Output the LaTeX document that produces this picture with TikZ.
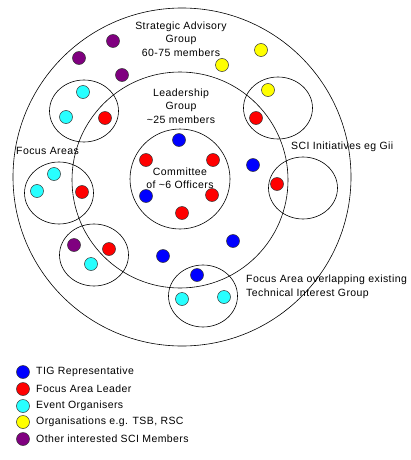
\documentclass[tikz,border=0pt]{standalone}
\usepackage{fontspec}
\setmainfont[LetterSpace=4]{Liberation Sans}
\usetikzlibrary{shapes.geometric}

\definecolor{tigblue}{RGB}{0,0,255}
\definecolor{leadred}{RGB}{255,0,0}
\definecolor{eventcyan}{RGB}{40,255,255}
\definecolor{orgyellow}{RGB}{255,255,0}
\definecolor{sciviolet}{RGB}{128,0,128}

\tikzset{
  dot/.style={circle, draw=black!80, line width=0.5pt, minimum size=13pt, inner sep=0pt},
  tig/.style={dot, fill=tigblue},
  lead/.style={dot, fill=leadred},
  event/.style={dot, fill=eventcyan},
  org/.style={dot, fill=orgyellow},
  member/.style={dot, fill=sciviolet},
  area/.style={ellipse, draw, line width=0.6pt, minimum width=69pt, minimum height=62pt, inner sep=0pt},
  ring/.style={circle, draw, line width=0.6pt, inner sep=0pt},
  lbl/.style={inner sep=0pt, font=\fontsize{10.5}{13.5}\selectfont},
}

\begin{document}
\begin{tikzpicture}[x=1pt, y=-1pt]
        \useasboundingbox (0,0) rectangle (411,460);

        % groups
        \node[ring, minimum size=338pt] (strategic) at (182,177) {};
        \node[ring, minimum size=216pt] (leadership) at (180,180) {};
        \node[ring, minimum size=100pt] (committee) at (180,179) {};

        % focus areas and initiatives
        \node[area] (fa1) at (84,111) {};
        \node[area] (fa2) at (278,108) {};
        \node[area] (fa3) at (59,193) {};
        \node[area] (sci) at (303,188) {};
        \node[area] (fa4) at (94,255) {};
        \node[area] (fa5) at (203,296) {};

        % labels
        \node[lbl, align=center] (strategictext) at (181,39) {Strategic Advisory\\Group\\60-75 members};
        \node[lbl, align=center] (leadershiptext) at (181,106) {Leadership\\Group\\\textasciitilde25 members};
        \node[lbl, align=center] (committeetext) at (180,178) {Committee\\of \textasciitilde6 Officers};
        \node[lbl, anchor=west] (focustext) at (16,151) {Focus Areas};
        \node[lbl, anchor=west] (scitext) at (291,147) {SCI Initiatives eg Gii};
        \node[lbl, anchor=west, align=left] (tigtext) at (246,287) {Focus Area overlapping existing\\Technical Interest Group};

        % members outside leadership
        \node[member] (m1) at (113,41) {};
        \node[member] (m2) at (79,58) {};
        \node[member] (m3) at (122,75) {};
        \node[org] (o1) at (261,50) {};
        \node[org] (o2) at (222,65) {};
        \node[org] (o3) at (268,90) {};

        % focus area members
        \node[event] (e1) at (83,92) {};
        \node[event] (e2) at (66,117) {};
        \node[lead] (l1) at (105,118) {};
        \node[lead] (l2) at (256,118) {};
        \node[event] (e3) at (54,174) {};
        \node[event] (e4) at (37,191) {};
        \node[lead] (l3) at (82,192) {};
        \node[lead] (l4) at (277,184) {};
        \node[member] (m4) at (74,245) {};
        \node[lead] (l5) at (109,249) {};
        \node[event] (e5) at (91,264) {};
        \node[event] (e6) at (182,299) {};
        \node[event] (e7) at (224,297) {};

        % committee
        \node[tig] (c1) at (179,140) {};
        \node[lead] (c2) at (146,160) {};
        \node[lead] (c3) at (213,160) {};
        \node[tig] (c4) at (146,196) {};
        \node[lead] (c5) at (212,195) {};
        \node[lead] (c6) at (182,213) {};

        % tig representatives
        \node[tig] (t1) at (253,165) {};
        \node[tig] (t2) at (163,256) {};
        \node[tig] (t3) at (233,241) {};
        \node[tig] (t4) at (197,275) {};

        % legend
        \node[tig] (k1) at (23,372) {};
        \node[lead] (k2) at (23,389) {};
        \node[event] (k3) at (23,406) {};
        \node[org] (k4) at (23,422) {};
        \node[member] (k5) at (23,439) {};
        \node[lbl, anchor=west] (k1text) at (36,372) {TIG Representative};
        \node[lbl, anchor=west] (k2text) at (36,389) {Focus Area Leader};
        \node[lbl, anchor=west] (k3text) at (36,406) {Event Organisers};
        \node[lbl, anchor=west] (k4text) at (36,422) {Organisations e.g. TSB, RSC};
        \node[lbl, anchor=west] (k5text) at (36,439) {Other interested SCI Members};
    \end{tikzpicture}
\end{document}
